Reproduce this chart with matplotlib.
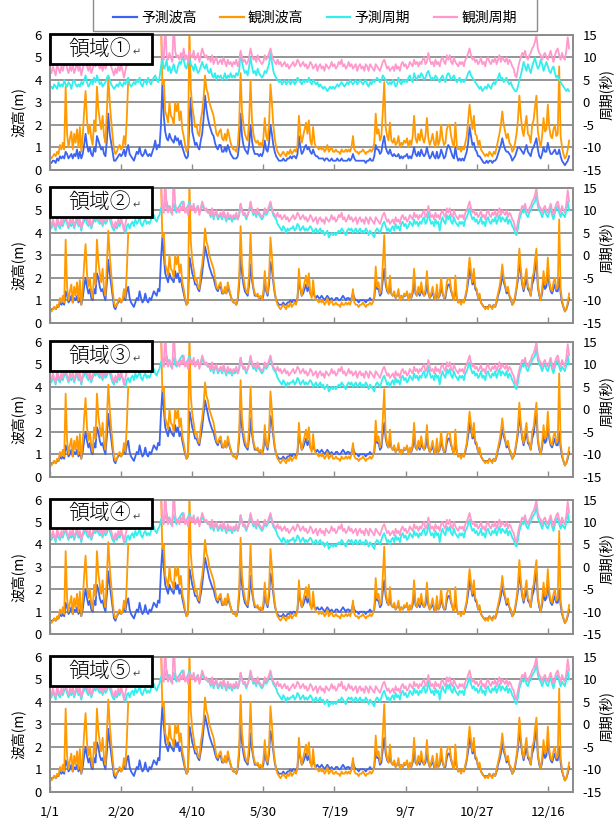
import numpy as np
import matplotlib
matplotlib.use("Agg")
import matplotlib.pyplot as plt
from matplotlib.lines import Line2D
from matplotlib.patches import Rectangle

plt.rcParams['font.family'] = ['Noto Sans CJK JP', 'DejaVu Sans']
plt.rcParams['axes.unicode_minus'] = False

nan = np.nan

region_names = ["領域①", "領域②", "領域③", "領域④", "領域⑤"]
tick_days = [0, 50, 100, 150, 200, 250, 300, 350]
tick_labels = ["1/1", "2/20", "4/10", "5/30", "7/19", "9/7", "10/27", "12/16"]
series_names = ["予測波高", "観測波高", "予測周期", "観測周期"]

# 観測波高 (m), 日ごと
obs_height = [
    0.6, 0.5, 0.6, 0.7, 0.6, 0.8, 0.7, 1.1, 0.9, 1.2,
    0.9, 3.7, 1.6, 1.0, 1.4, 1.7, 0.9, 1.6, 1.2, 1.8,
    1.0, 1.9, 0.8, 1.5, 2.6, 3.5, 2.2, 1.6, 2.0, 1.4,
    1.1, 2.2, 1.7, 3.7, 2.7, 2.2, 1.8, 2.4, 1.5, 1.2,
    2.6, 4.1, 3.0, 2.2, 1.5, 0.9, 0.7, 0.8, 1.0, 1.1,
    0.9, 1.0, 1.5, 1.1, 2.3, 4.0, nan, nan, nan, nan,
    nan, nan, nan, nan, nan, nan, nan, nan, nan, nan,
    nan, nan, nan, nan, nan, nan, nan, nan, 6.4, 3.8,
    4.0, 2.6, 2.4, 2.1, 3.0, 2.4, 2.3, 2.0, 3.0, 2.6,
    3.0, 2.2, 2.6, 1.8, 1.5, 1.1, 0.8, 0.9, 6.3, 3.6,
    2.8, 2.4, 1.9, 2.0, 1.6, 1.5, 2.2, 2.6, 3.2, 4.2,
    3.6, 3.4, 3.0, 2.8, 2.6, 2.4, 2.0, 1.6, 1.5, 1.7,
    1.8, 1.4, 1.3, 1.6, 1.3, 1.8, 1.5, 1.2, 1.0, 0.9,
    0.9, 0.8, 1.1, 2.0, 4.3, 2.6, 2.0, 1.6, 1.4, 1.3,
    2.2, 4.0, 2.2, 1.6, 1.3, 1.2, 1.3, 1.1, 1.2, 1.0,
    1.4, 2.3, 1.5, 1.3, 2.0, 3.8, 3.0, 2.0, 1.4, 1.0,
    0.8, 0.7, 0.6, 0.7, 0.8, 0.7, 0.6, 0.8, 0.7, 0.9,
    0.7, 0.8, 0.9, 0.8, 1.1, 2.4, 1.6, 1.2, 1.5, 1.8,
    2.1, 1.6, 2.2, 1.3, 1.1, 1.9, 1.2, 1.0, 1.0, 0.9,
    1.0, 0.9, 1.0, 0.8, 0.9, 1.1, 0.8, 0.9, 1.0, 0.8,
    0.8, 0.9, 0.8, 0.8, 0.7, 0.9, 0.8, 0.8, 0.9, 0.8,
    0.9, 0.8, 1.0, 1.5, 0.9, 0.8, 0.8, 0.7, 0.8, 0.8,
    0.9, 0.8, 0.7, 0.8, 0.8, 0.9, 0.8, 0.9, 1.2, 2.5,
    1.6, 1.8, 1.3, 1.5, 2.6, 3.9, 1.9, 1.5, 1.3, 2.1,
    1.3, 1.2, 1.4, 1.1, 1.2, 1.5, 1.0, 1.2, 1.1, 1.3,
    1.2, 1.4, 1.0, 1.3, 1.1, 1.5, 2.4, 1.4, 1.2, 1.6,
    1.3, 1.8, 1.4, 1.2, 1.5, 2.3, 1.4, 1.1, 1.3, 1.6,
    1.2, 1.0, 1.7, 1.1, 1.3, 2.0, 1.4, 1.1, 1.2, 1.8,
    2.0, 2.0, 1.5, 1.2, 1.0, 2.1, 1.1, 0.9, 1.0, 0.8,
    1.0, 0.9, 1.2, 1.5, 2.2, 2.9, 2.3, 1.8, 2.4, 1.6,
    1.5, 1.1, 1.3, 0.9, 0.8, 0.7, 0.6, 0.7, 0.6, 0.8,
    0.7, 0.6, 0.8, 0.7, 1.0, 1.3, 1.6, 2.0, 2.6, 2.0,
    1.7, 1.4, 1.6, 1.2, 1.1, 0.8, 0.9, 1.2, 1.6, 2.2,
    3.3, 2.4, 1.8, 1.5, 2.0, 2.4, 1.6, 1.5, 1.2, 2.0,
    2.2, 2.8, 3.3, 1.7, 1.3, 1.0, 1.5, 2.3, 1.7, 1.8,
    2.9, 1.9, 1.5, 1.4, 1.8, 2.0, 1.5, 1.6, 4.6, 1.5,
    1.0, 0.7, 0.5, 0.6, 0.9, 1.3,
]

# 観測周期 (秒)
obs_period = [
    7.5, 6.5, 8.0, 7.0, 6.0, 8.5, 7.5, 6.5, 8.0, 7.0,
    8.5, 9.5, 7.5, 6.5, 8.0, 7.0, 8.5, 6.5, 7.5, 9.0,
    7.0, 8.0, 6.0, 7.5, 8.5, 9.5, 8.0, 7.0, 8.5, 6.5,
    7.5, 9.0, 8.0, 9.5, 8.5, 7.5, 8.5, 7.0, 9.0, 7.5,
    8.5, 10.0, 9.0, 8.0, 7.0, 6.0, 7.5, 6.5, 8.0, 7.0,
    8.5, 7.0, 5.5, 7.0, 8.5, 9.0, nan, nan, nan, nan,
    nan, nan, nan, nan, nan, nan, nan, nan, nan, nan,
    nan, nan, nan, nan, nan, nan, nan, nan, 18.0, 10.0,
    9.5, 18.0, 10.5, 9.5, 11.0, 10.0, 9.0, 18.0, 11.5, 10.0,
    10.5, 9.5, 11.0, 10.0, 12.0, 9.5, 10.5, 9.0, 11.5, 10.5,
    10.0, 11.5, 9.5, 10.0, 11.0, 9.0, 10.5, 12.0, 11.0, 10.0,
    10.5, 9.5, 10.0, 9.0, 10.5, 8.5, 9.5, 10.0, 8.5, 9.0,
    9.5, 8.5, 10.0, 9.0, 8.0, 9.5, 8.5, 9.0, 8.0, 9.0,
    8.5, 9.5, 8.0, 9.0, 11.5, 10.0, 9.0, 9.5, 8.5, 9.0,
    10.0, 12.0, 10.5, 9.5, 10.0, 9.0, 10.5, 9.5, 9.0, 8.5,
    9.0, 10.5, 9.5, 10.0, 11.0, 12.0, 10.5, 9.5, 9.0, 8.5,
    9.5, 8.5, 9.0, 8.0, 8.5, 9.0, 8.0, 8.5, 7.5, 8.0,
    8.5, 9.0, 8.0, 8.5, 9.5, 9.0, 8.0, 8.5, 9.0, 8.0,
    8.5, 7.5, 8.0, 9.0, 8.5, 7.5, 8.0, 8.5, 7.0, 8.0,
    8.5, 7.5, 8.0, 7.0, 8.5, 8.0, 7.5, 8.0, 9.0, 8.0,
    8.5, 7.5, 8.0, 9.0, 8.5, 9.5, 8.0, 8.5, 7.5, 8.0,
    9.0, 8.0, 8.5, 7.5, 8.0, 8.5, 7.0, 8.0, 8.5, 7.5,
    8.0, 7.0, 8.5, 8.0, 7.0, 8.5, 8.0, 7.5, 7.0, 8.5,
    8.0, 7.5, 7.0, 8.0, 9.0, 9.5, 8.5, 7.5, 8.0, 7.0,
    7.5, 8.0, 7.0, 8.5, 7.5, 8.0, 7.0, 8.5, 9.0, 8.0,
    8.5, 7.5, 8.0, 9.0, 8.5, 8.0, 9.5, 8.5, 9.0, 8.0,
    9.0, 8.5, 9.5, 10.0, 8.5, 9.0, 11.0, 9.5, 8.5, 9.0,
    8.0, 9.5, 8.5, 9.0, 8.0, 9.5, 10.0, 9.0, 8.5, 10.5,
    9.5, 10.5, 9.0, 8.5, 10.0, 9.0, 8.5, 8.0, 9.0, 8.5,
    9.0, 8.0, 9.5, 10.0, 11.0, 12.0, 10.5, 9.5, 10.0, 9.0,
    9.5, 8.5, 9.0, 10.0, 8.5, 9.0, 8.0, 9.5, 10.0, 9.0,
    8.5, 9.5, 9.0, 10.0, 8.5, 9.5, 10.5, 9.0, 10.0, 9.5,
    9.0, 10.0, 8.5, 9.5, 9.0, 8.0, 7.5, 6.0, 5.5, 7.5,
    9.0, 10.0, 11.0, 10.5, 11.5, 10.0, 9.5, 10.5, 11.0, 12.0,
    12.5, 13.5, 15.0, 12.0, 11.0, 10.5, 9.5, 10.5, 11.0, 10.0,
    9.5, 10.5, 11.5, 10.0, 9.0, 10.5, 11.5, 12.0, 10.5, 9.5,
    11.0, 10.0, 9.5, 11.5, 14.5, 12.0,
]

# 予測波高 (m) 領域①
fc_height_r1 = [
    0.3, 0.3, 0.4, 0.4, 0.3, 0.5, 0.4, 0.6, 0.5, 0.6,
    0.5, 0.8, 0.7, 0.5, 0.6, 0.7, 0.5, 0.7, 0.6, 0.9,
    0.5, 0.8, 0.5, 0.7, 1.1, 1.6, 1.1, 0.8, 1.0, 0.7,
    0.6, 1.0, 0.8, 1.5, 1.3, 1.1, 0.9, 1.0, 0.7, 0.6,
    1.3, 2.5, 1.6, 1.2, 0.8, 0.4, 0.4, 0.5, 0.6, 0.7,
    0.6, 0.7, 0.9, 0.6, 0.9, 1.1, 0.7, 0.6, 0.5, 0.4,
    0.6, 0.8, 0.7, 1.0, 0.7, 0.6, 0.7, 0.9, 0.7, 0.6,
    0.7, 0.6, 0.8, 1.0, 1.3, 0.9, 1.1, 1.0, 2.0, 3.8,
    2.4, 1.7, 1.4, 1.3, 1.6, 1.4, 1.3, 1.2, 1.5, 1.3,
    1.4, 1.1, 1.3, 1.0, 0.8, 0.6, 0.5, 0.6, 2.2, 3.2,
    1.7, 1.4, 1.1, 1.2, 1.0, 0.9, 1.3, 1.6, 2.3, 3.3,
    2.7, 2.3, 2.0, 1.8, 1.6, 1.5, 1.2, 1.0, 0.9, 1.1,
    1.1, 0.8, 0.8, 1.0, 0.8, 1.1, 0.9, 0.7, 0.6, 0.5,
    0.5, 0.5, 0.6, 1.1, 2.5, 1.5, 1.1, 0.9, 0.8, 0.7,
    1.1, 2.0, 1.3, 0.9, 0.7, 0.7, 0.7, 0.6, 0.7, 0.6,
    0.8, 1.3, 0.9, 0.8, 1.2, 2.0, 1.6, 1.1, 0.8, 0.6,
    0.5, 0.4, 0.4, 0.4, 0.5, 0.4, 0.4, 0.5, 0.5, 0.6,
    0.5, 0.6, 0.6, 0.5, 0.7, 1.5, 1.0, 0.7, 0.8, 1.0,
    1.1, 0.9, 1.0, 0.8, 0.7, 0.9, 0.7, 0.6, 0.6, 0.5,
    0.5, 0.5, 0.5, 0.4, 0.5, 0.5, 0.4, 0.4, 0.5, 0.4,
    0.4, 0.4, 0.5, 0.4, 0.4, 0.5, 0.4, 0.4, 0.4, 0.4,
    0.5, 0.4, 0.5, 0.7, 0.5, 0.4, 0.4, 0.4, 0.4, 0.4,
    0.4, 0.4, 0.3, 0.4, 0.4, 0.5, 0.4, 0.4, 0.6, 1.1,
    0.9, 0.9, 0.7, 0.8, 1.2, 1.5, 1.0, 0.8, 0.7, 0.9,
    0.7, 0.6, 0.7, 0.6, 0.6, 0.7, 0.5, 0.6, 0.5, 0.6,
    0.6, 0.7, 0.5, 0.6, 0.5, 0.7, 1.0, 0.7, 0.6, 0.8,
    0.6, 0.9, 0.7, 0.6, 0.7, 1.0, 0.7, 0.5, 0.6, 0.8,
    0.6, 0.5, 0.8, 0.5, 0.6, 0.9, 0.7, 0.5, 0.6, 0.9,
    1.1, 1.0, 0.8, 0.6, 0.5, 1.0, 0.6, 0.4, 0.5, 0.4,
    0.5, 0.4, 0.6, 0.8, 1.2, 1.9, 1.5, 1.1, 1.2, 0.9,
    0.8, 0.6, 0.6, 0.5, 0.4, 0.3, 0.3, 0.4, 0.3, 0.4,
    0.4, 0.3, 0.4, 0.4, 0.5, 0.7, 0.9, 1.1, 1.4, 1.1,
    0.9, 0.8, 0.8, 0.7, 0.6, 0.4, 0.5, 0.6, 0.8, 1.0,
    1.0, 0.9, 0.8, 0.7, 0.9, 1.1, 0.8, 0.7, 0.6, 0.9,
    1.0, 1.2, 1.4, 0.9, 0.6, 0.5, 0.7, 1.0, 0.8, 0.8,
    1.2, 0.9, 0.7, 0.7, 0.8, 0.9, 0.7, 0.7, 0.9, 0.6,
    0.4, 0.3, 0.2, 0.3, 0.4, 0.6,
]

# 予測周期 (秒) 領域①
fc_period_r1 = [
    3.0, 3.5, 3.0, 4.0, 3.5, 3.0, 4.5, 3.5, 4.0, 3.5,
    5.0, 4.0, 3.5, 4.5, 4.0, 3.0, 4.5, 5.0, 4.0, 3.5,
    4.0, 3.5, 4.5, 4.0, 5.0, 6.0, 4.5, 3.5, 4.0, 5.0,
    4.0, 5.5, 4.5, 6.0, 5.0, 4.0, 4.5, 3.5, 4.0, 4.5,
    5.5, 6.0, 5.0, 4.0, 3.5, 3.0, 3.5, 4.0, 3.5, 4.5,
    4.0, 3.5, 4.5, 4.0, 5.0, 5.5, 4.0, 3.5, 4.0, 4.5,
    4.0, 5.0, 4.5, 5.5, 4.0, 3.5, 4.5, 5.0, 4.0, 5.5,
    4.5, 4.0, 5.0, 5.5, 6.0, 5.0, 4.5, 5.5, 8.0, 10.0,
    7.5, 8.0, 9.5, 7.0, 8.0, 6.5, 7.5, 8.5, 7.0, 6.5,
    8.0, 9.0, 8.5, 10.0, 9.5, 8.0, 7.5, 9.0, 10.0, 8.5,
    8.0, 7.0, 8.5, 7.5, 6.5, 7.0, 8.0, 9.0, 8.0, 7.5,
    8.5, 7.0, 6.5, 7.5, 6.0, 5.5, 6.5, 5.0, 6.0, 5.5,
    6.0, 5.0, 5.5, 6.5, 5.0, 6.0, 5.5, 6.5, 5.5, 6.0,
    5.5, 6.5, 6.0, 7.0, 11.0, 9.0, 7.5, 6.5, 7.0, 6.0,
    8.0, 10.0, 8.0, 6.5, 7.0, 6.0, 7.5, 6.5, 6.0, 5.5,
    6.0, 7.0, 6.5, 7.5, 8.5, 11.0, 9.0, 7.0, 6.0, 5.5,
    5.0, 4.5, 5.0, 4.0, 4.5, 5.0, 4.0, 4.5, 5.0, 4.0,
    4.5, 5.0, 4.0, 4.5, 5.5, 5.0, 4.5, 4.0, 5.0, 4.5,
    5.0, 4.5, 5.5, 4.5, 4.0, 5.0, 4.5, 4.0, 4.5, 3.5,
    4.0, 3.5, 3.0, 3.5, 3.0, 2.5, 3.0, 3.5, 3.0, 3.5,
    3.0, 3.5, 4.0, 3.5, 4.0, 4.5, 4.0, 3.5, 4.0, 4.5,
    4.0, 5.0, 4.5, 4.0, 4.5, 5.0, 4.0, 4.5, 5.0, 4.5,
    4.0, 4.5, 5.0, 4.0, 3.5, 4.5, 4.0, 5.0, 4.5, 5.0,
    5.5, 5.0, 4.5, 5.0, 6.0, 5.5, 5.0, 4.5, 4.0, 4.5,
    4.0, 5.0, 4.5, 3.5, 4.0, 5.5, 4.5, 4.0, 5.0, 4.5,
    5.0, 4.5, 5.5, 6.0, 5.0, 4.5, 6.5, 5.5, 5.0, 6.0,
    5.5, 6.5, 6.0, 5.0, 5.5, 6.5, 7.0, 6.0, 5.0, 5.5,
    5.0, 6.0, 5.5, 5.0, 4.5, 5.5, 6.0, 5.0, 4.5, 6.0,
    6.5, 6.0, 5.0, 5.5, 6.0, 5.0, 4.5, 5.0, 5.5, 4.5,
    5.0, 4.5, 5.0, 5.5, 6.5, 7.0, 6.0, 5.5, 5.0, 4.5,
    4.0, 3.5, 3.0, 3.5, 2.5, 3.0, 3.5, 3.0, 4.0, 3.5,
    3.0, 4.0, 4.5, 4.0, 5.0, 5.5, 6.5, 5.0, 5.5, 4.5,
    5.0, 5.5, 4.5, 4.0, 4.5, 3.5, 3.0, 2.5, 2.5, 3.5,
    5.0, 6.0, 7.5, 9.0, 8.0, 7.0, 8.5, 7.5, 6.5, 8.0,
    9.0, 10.0, 8.5, 7.5, 8.0, 9.5, 8.5, 7.0, 8.0, 9.0,
    8.0, 7.0, 6.5, 7.5, 8.0, 6.5, 5.5, 6.0, 5.0, 4.5,
    4.0, 3.5, 3.0, 2.5, 3.0, 2.5,
]

# 予測波高 (m) 領域②～⑤ (ほぼ同じ)
fc_height_r2 = [
    0.6, 0.6, 0.6, 0.7, 0.6, 0.7, 0.7, 0.9, 0.8, 0.9,
    0.8, 1.4, 1.2, 0.9, 1.0, 1.2, 0.9, 1.1, 1.0, 1.2,
    0.9, 1.1, 0.8, 1.1, 1.6, 2.0, 1.6, 1.3, 1.5, 1.1,
    1.0, 1.5, 1.3, 2.2, 2.0, 1.6, 1.4, 1.5, 1.2, 1.0,
    1.8, 2.8, 2.2, 1.7, 1.2, 0.7, 0.6, 0.8, 0.9, 1.0,
    0.9, 1.0, 1.2, 1.0, 1.4, 1.6, 1.1, 0.9, 0.8, 0.7,
    0.9, 1.1, 1.0, 1.4, 1.1, 0.9, 1.0, 1.3, 1.0, 0.9,
    1.1, 1.0, 1.2, 1.4, 1.3, 1.2, 1.5, 1.4, 2.8, 3.8,
    3.0, 2.2, 2.0, 1.8, 2.2, 2.0, 1.9, 1.8, 2.3, 2.0,
    2.2, 1.8, 2.0, 1.6, 1.3, 1.0, 0.8, 0.9, 2.9, 2.6,
    2.2, 2.0, 1.7, 1.7, 1.5, 1.4, 1.8, 2.2, 2.8, 3.4,
    3.1, 2.8, 2.5, 2.3, 2.1, 2.0, 1.7, 1.5, 1.4, 1.6,
    1.6, 1.3, 1.3, 1.5, 1.3, 1.6, 1.4, 1.2, 1.0, 0.9,
    0.9, 0.8, 1.0, 1.7, 3.0, 2.2, 1.7, 1.4, 1.3, 1.2,
    1.7, 2.6, 1.9, 1.5, 1.2, 1.2, 1.2, 1.1, 1.1, 1.0,
    1.2, 1.8, 1.4, 1.2, 1.7, 2.7, 2.4, 1.8, 1.3, 1.0,
    0.9, 0.8, 0.8, 0.8, 0.9, 0.8, 0.8, 0.9, 0.9, 1.0,
    0.9, 1.0, 1.0, 0.9, 1.1, 1.9, 1.5, 1.2, 1.3, 1.5,
    1.7, 1.4, 1.6, 1.3, 1.2, 1.4, 1.2, 1.1, 1.2, 1.1,
    1.1, 1.2, 1.1, 1.0, 1.1, 1.2, 1.1, 1.0, 1.1, 1.0,
    1.0, 1.1, 1.1, 1.0, 1.0, 1.1, 1.2, 1.1, 1.0, 1.1,
    1.1, 1.0, 1.1, 1.3, 1.1, 1.0, 1.0, 0.9, 1.0, 1.0,
    1.0, 1.0, 0.9, 1.0, 1.0, 1.1, 1.0, 1.0, 1.1, 1.8,
    1.5, 1.5, 1.2, 1.3, 1.9, 2.4, 1.7, 1.4, 1.3, 1.6,
    1.3, 1.2, 1.3, 1.1, 1.2, 1.3, 1.1, 1.2, 1.1, 1.2,
    1.2, 1.3, 1.1, 1.2, 1.1, 1.3, 1.8, 1.3, 1.2, 1.4,
    1.2, 1.5, 1.3, 1.2, 1.3, 1.7, 1.3, 1.1, 1.2, 1.4,
    1.1, 1.0, 1.4, 1.1, 1.2, 1.6, 1.3, 1.1, 1.1, 1.5,
    1.7, 1.7, 1.4, 1.2, 1.0, 1.6, 1.1, 0.9, 1.0, 0.9,
    1.0, 0.9, 1.1, 1.4, 1.8, 2.4, 2.1, 1.7, 1.9, 1.5,
    1.4, 1.1, 1.2, 0.9, 0.8, 0.7, 0.7, 0.7, 0.7, 0.8,
    0.7, 0.7, 0.8, 0.7, 0.9, 1.2, 1.4, 1.7, 2.2, 1.8,
    1.6, 1.3, 1.4, 1.2, 1.0, 0.8, 0.9, 1.1, 1.5, 1.9,
    2.8, 2.2, 1.7, 1.4, 1.7, 2.0, 1.5, 1.4, 1.2, 1.7,
    1.9, 2.4, 2.8, 1.6, 1.2, 1.0, 1.3, 1.9, 1.5, 1.6,
    2.3, 1.7, 1.4, 1.3, 1.5, 1.7, 1.4, 1.4, 2.0, 1.3,
    0.9, 0.7, 0.5, 0.6, 0.8, 1.1,
]

# 予測周期 (秒) 領域②～⑤
fc_period_r2 = [
    6.5, 6.0, 7.0, 6.5, 5.5, 7.5, 6.5, 6.0, 7.0, 6.5,
    7.5, 8.0, 7.0, 6.0, 7.0, 6.5, 7.5, 6.0, 7.0, 8.0,
    6.5, 7.0, 5.5, 7.0, 7.5, 8.5, 7.0, 6.5, 7.5, 6.0,
    7.0, 8.0, 7.5, 8.5, 7.5, 7.0, 7.5, 6.5, 8.0, 7.0,
    7.5, 9.0, 8.0, 7.0, 6.0, 5.5, 6.5, 6.0, 7.0, 6.5,
    7.5, 7.0, 6.0, 5.0, 6.5, 7.0, 6.0, 7.0, 7.5, 6.5,
    8.0, 7.0, 7.5, 8.5, 7.0, 6.5, 7.5, 8.0, 7.0, 7.5,
    7.0, 8.0, 8.5, 9.0, 8.0, 7.5, 8.5, 9.0, 10.5, 11.0,
    10.0, 11.0, 12.0, 10.5, 11.0, 9.5, 10.5, 11.5, 10.0, 9.5,
    10.5, 11.0, 11.5, 12.0, 11.0, 10.0, 10.5, 11.0, 12.0, 11.0,
    10.5, 11.0, 10.0, 10.5, 11.0, 9.5, 10.0, 11.5, 10.5, 10.0,
    10.0, 9.5, 9.5, 8.5, 10.0, 8.0, 9.0, 9.5, 8.0, 8.5,
    9.0, 8.0, 9.0, 8.5, 7.5, 9.0, 8.0, 8.5, 7.5, 8.5,
    8.0, 9.0, 8.0, 9.0, 11.5, 10.0, 9.0, 9.0, 8.0, 9.0,
    10.0, 11.5, 10.0, 9.0, 9.5, 8.5, 10.0, 9.0, 8.5, 8.0,
    8.5, 10.0, 9.0, 9.5, 10.5, 11.5, 10.0, 9.0, 8.5, 8.0,
    7.0, 6.5, 6.0, 5.5, 6.5, 6.0, 5.0, 6.0, 5.5, 6.0,
    6.0, 6.5, 5.5, 6.0, 7.0, 6.5, 5.5, 6.0, 6.5, 5.5,
    6.0, 5.5, 6.0, 6.5, 6.0, 5.0, 5.5, 6.0, 5.0, 5.5,
    6.0, 5.0, 5.5, 4.5, 5.0, 5.5, 4.0, 4.5, 5.0, 4.5,
    5.0, 4.5, 5.0, 5.5, 5.0, 6.0, 5.5, 5.0, 4.5, 5.5,
    6.0, 5.5, 6.0, 5.0, 5.5, 6.0, 5.0, 5.5, 6.0, 5.0,
    5.5, 5.0, 6.0, 5.5, 4.5, 5.5, 5.0, 4.5, 4.0, 5.5,
    6.0, 5.5, 5.0, 6.0, 7.0, 7.5, 6.5, 5.5, 6.0, 5.0,
    6.0, 6.5, 5.5, 7.0, 6.0, 6.5, 5.5, 7.0, 7.5, 6.5,
    7.0, 6.0, 6.5, 7.5, 7.0, 6.5, 8.0, 7.0, 7.5, 6.5,
    7.5, 7.0, 8.0, 8.5, 7.0, 7.5, 9.5, 8.0, 7.0, 7.5,
    6.5, 8.0, 7.0, 7.5, 5.5, 7.5, 8.5, 7.5, 7.0, 9.0,
    8.0, 9.0, 7.5, 7.0, 8.5, 7.5, 7.0, 6.5, 7.5, 7.0,
    7.5, 6.5, 8.0, 8.5, 9.5, 10.5, 9.0, 8.0, 8.5, 7.5,
    8.0, 7.0, 7.5, 8.5, 7.0, 7.5, 6.5, 8.0, 8.5, 7.5,
    7.0, 8.0, 7.5, 8.5, 7.0, 8.0, 9.0, 7.5, 8.5, 8.0,
    7.5, 8.5, 7.0, 8.0, 7.5, 6.5, 6.0, 5.0, 4.5, 6.0,
    8.0, 9.0, 10.0, 9.5, 10.5, 9.0, 8.5, 9.5, 10.0, 11.0,
    11.5, 12.0, 13.5, 11.0, 10.0, 9.5, 8.5, 9.5, 10.0, 9.0,
    8.5, 9.5, 10.5, 9.0, 8.0, 9.5, 10.5, 11.0, 9.5, 8.5,
    9.5, 9.0, 8.5, 10.0, 12.0, 10.0,
]

fc_heights = [fc_height_r1, fc_height_r2, fc_height_r2, fc_height_r2, fc_height_r2]
fc_periods = [fc_period_r1, fc_period_r2, fc_period_r2, fc_period_r2, fc_period_r2]

for arr in [obs_height, obs_period, fc_height_r1, fc_period_r1, fc_height_r2, fc_period_r2]:
    assert len(arr) == 366, len(arr)

days = np.arange(366)

c_fc_h = "#3c64f0"
c_obs_h = "#ff9a00"
c_fc_p = "#33eeee"
c_obs_p = "#ff99cc"
c_grid = "#8c8c8c"
lw = 1.3

W, H = 616, 821
fig = plt.figure(figsize=(W / 100, H / 100), dpi=100)

left_px, right_px = 50, 572.7
panel_tops = [35, 188, 342, 499.5, 657]
panel_h = 134.7

for i in range(5):
    top = panel_tops[i]
    ax = fig.add_axes([left_px / W, 1 - (top + panel_h) / H, (right_px - left_px) / W, panel_h / H])
    ax.plot(days, fc_heights[i], color=c_fc_h, lw=lw)
    ax.plot(days, obs_height, color=c_obs_h, lw=lw)
    ax.set_xlim(0, 367.5)
    ax.set_ylim(0, 6)
    ax.set_yticks(range(7))
    ax.yaxis.grid(True, color=c_grid, lw=1.3)
    ax.set_axisbelow(True)
    ax.tick_params(axis='y', length=0, pad=6, labelsize=9.5)
    ax.set_xticks(tick_days)
    ax.tick_params(axis='x', direction='in', length=4, color=c_grid, width=1)
    if i == 4:
        ax.set_xticklabels(tick_labels, fontsize=9.5)
        ax.tick_params(axis='x', pad=10)
    else:
        ax.set_xticklabels([])

    ax2 = ax.twinx()
    ax2.plot(days, fc_periods[i], color=c_fc_p, lw=lw)
    ax2.plot(days, obs_period, color=c_obs_p, lw=lw)
    ax2.set_ylim(-15, 15)
    ax2.set_yticks(range(-15, 16, 5))
    ax2.tick_params(axis='y', length=0, pad=7, labelsize=9.5)
    for a in (ax, ax2):
        for s in a.spines.values():
            s.set_color(c_grid)
            s.set_linewidth(1.3)

    # 領域ラベルの枠
    ax2.add_patch(Rectangle((0, 0.785), 0.195, 0.222, transform=ax2.transAxes,
                            facecolor="white", edgecolor="black", lw=2, clip_on=False, zorder=10))
    ax2.text(0.036, 0.9, region_names[i], transform=ax2.transAxes, fontsize=15,
             fontweight="light", ha="left", va="center", zorder=11)
    ax2.text(0.158, 0.87, "↵", transform=ax2.transAxes, fontsize=7, color="#444444",
             ha="left", va="center", zorder=11)

    fig.text(18 / W, 1 - (top + panel_h / 2 + 10) / H, "波高(m)", rotation=90,
             ha="center", va="center", fontsize=10)
    fig.text(606 / W, 1 - (top + panel_h / 2 - 8) / H, "周期(秒)", rotation=90,
             ha="center", va="center", fontsize=10)

# 凡例
fig.patches.append(Rectangle((93 / W, 1 - 31 / H), 444 / W, 40 / H, transform=fig.transFigure,
                             fill=False, edgecolor=c_grid, lw=1))
handles = [Line2D([], [], color=c, lw=1.6) for c in (c_fc_h, c_obs_h, c_fc_p, c_obs_p)]
fig.legend(handles, series_names, loc="center", bbox_to_anchor=(315 / W, 1 - 18 / H),
           ncol=4, frameon=False, fontsize=10, handlelength=1.7, handletextpad=0.3,
           columnspacing=1.7)

fig.savefig("out.png", dpi=100)
